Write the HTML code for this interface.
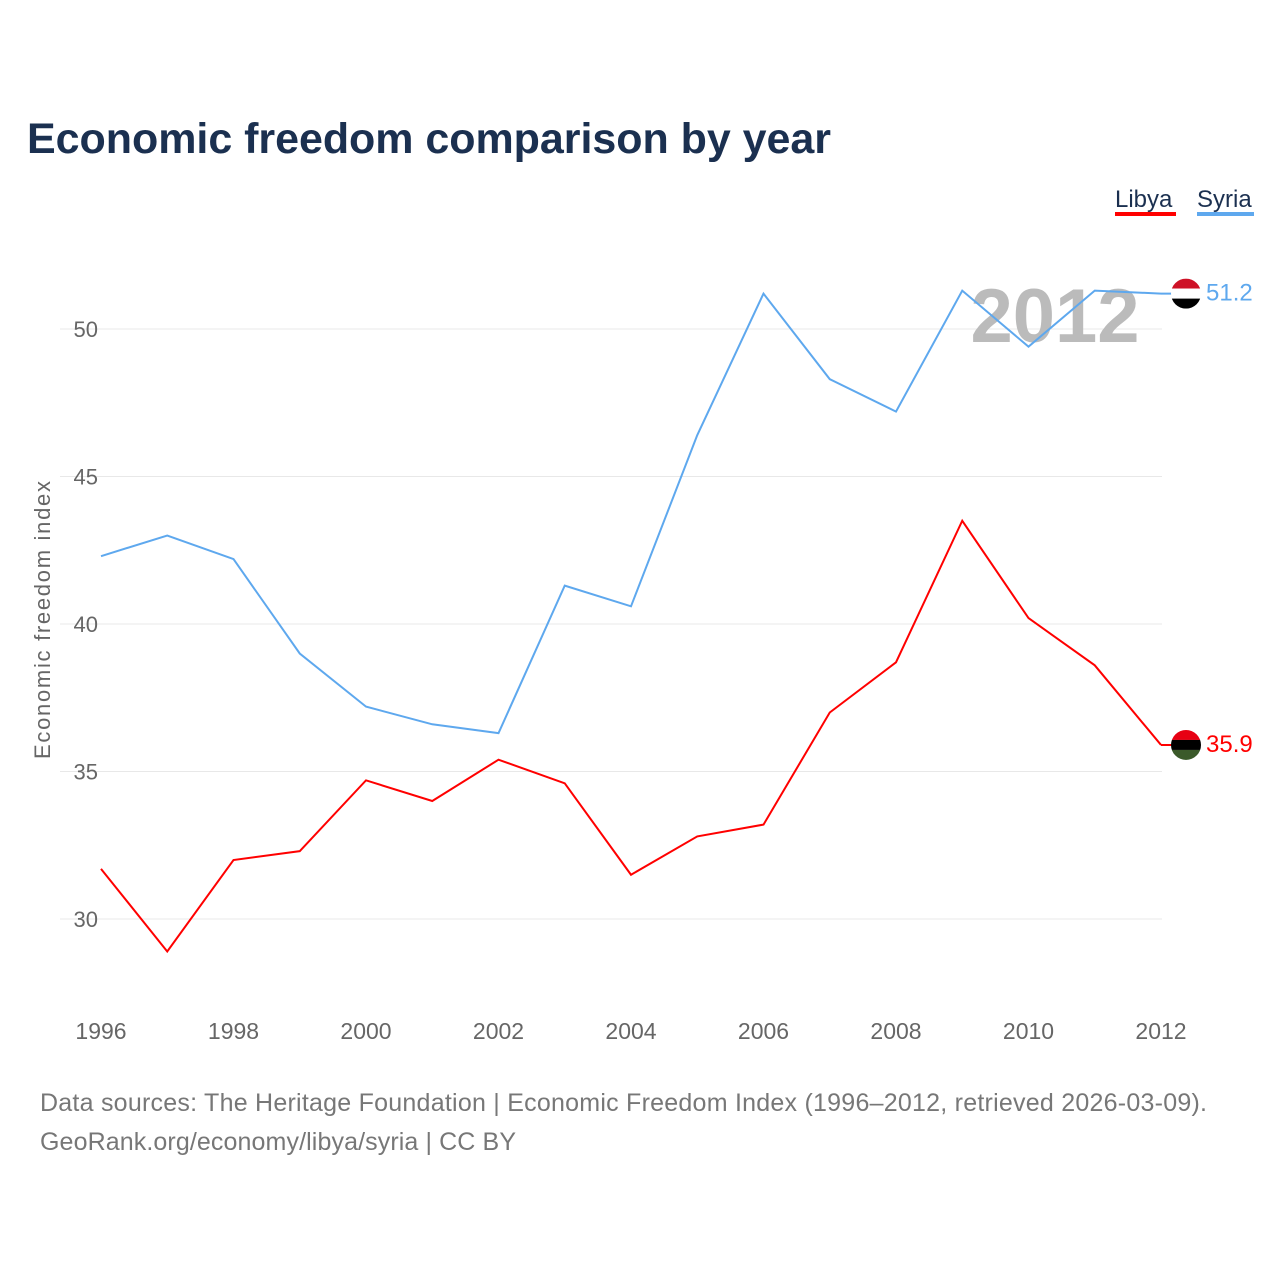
<!DOCTYPE html>
<html><head><meta charset="utf-8"><style>
body{margin:0;background:#fff;font-family:"Liberation Sans",sans-serif;}
</style></head><body>
<svg width="1280" height="1280" xmlns="http://www.w3.org/2000/svg">
<text x="27" y="153" font-size="43" font-weight="bold" fill="#1b3050" textLength="804">Economic freedom comparison by year</text>
<g>
<text x="1115" y="207" font-size="24" fill="#1b3050">Libya</text>
<rect x="1115" y="212" width="61" height="4" fill="#ff0000"/>
<text x="1197" y="207" font-size="24" fill="#1b3050">Syria</text>
<rect x="1197" y="212" width="57" height="4" fill="#5ea8ee"/>
</g>
<g id="grid"></g>
<text x="1055" y="342" font-size="76" font-weight="bold" fill="#bbb" text-anchor="middle">2012</text>
<text transform="translate(50,620) rotate(-90)" font-size="22" fill="#666" text-anchor="middle" textLength="278">Economic freedom index</text>
<g id="marks"></g>
<text x="40" y="1111" font-size="25" fill="#777" textLength="1167">Data sources: The Heritage Foundation | Economic Freedom Index (1996–2012, retrieved 2026-03-09).</text>
<text x="40" y="1150" font-size="25" fill="#777" textLength="476">GeoRank.org/economy/libya/syria | CC BY</text>
</svg>
<script>
const years=[1996,1997,1998,1999,2000,2001,2002,2003,2004,2005,2006,2007,2008,2009,2010,2011,2012];
const syria=[42.3,43.0,42.2,39.0,37.2,36.6,36.3,41.3,40.6,46.4,51.2,48.3,47.2,51.3,49.4,51.3,51.2];
const libya=[31.7,28.9,32.0,32.3,34.7,34.0,35.4,34.6,31.5,32.8,33.2,37.0,38.7,43.5,40.2,38.6,35.9];
const yTicks=[30,35,40,45,50];
const xTicks=[1996,1998,2000,2002,2004,2006,2008,2010,2012];
const NS="http://www.w3.org/2000/svg";
const xS=v=>101+(v-1996)*(1060/16);
const yS=v=>329+(50-v)*29.5;
const grid=document.getElementById('grid'),marks=document.getElementById('marks');
function mk(t,a,p){const e=document.createElementNS(NS,t);for(const k in a)e.setAttribute(k,a[k]);p.appendChild(e);return e;}
yTicks.forEach(v=>{
 const l=mk('line',{x1:60,x2:1162,y1:yS(v),y2:yS(v),stroke:'#e8e8e8','stroke-width':1},grid);
 
 
 const t=mk('text',{x:98,y:yS(v)+8,'font-size':22,fill:'#666','text-anchor':'end'},grid);t.textContent=v;
 
 
});
xTicks.forEach(v=>{
 const t=mk('text',{x:xS(v),y:1039,'font-size':23,fill:'#666','text-anchor':'middle'},grid);t.textContent=v;
 
 
});
function series(d,c,name,flag){
 const p=mk('polyline',{points:d.map((v,i)=>xS(years[i])+','+yS(v)).join(' '),fill:'none',stroke:c,'stroke-width':2},marks);
 
 
 const last=d[d.length-1],x=xS(years[years.length-1])+25,y=yS(last);
 mk('line',{x1:xS(2012),x2:x,y1:y,y2:y,stroke:c,'stroke-width':2},marks);
 const g=mk('g',{},marks);
 
 
 const cp=mk('clipPath',{id:'c'+name},g);mk('circle',{cx:x,cy:y,r:15},cp);
 const cg=mk('g',{'clip-path':'url(#c'+name+')'},g);
 flag.forEach((f,i)=>mk('rect',{x:x-15,y:y-15+i*10,width:30,height:10,fill:f},cg));
 const t=mk('text',{x:x+20,y:y+7,'font-size':24,fill:c},marks);t.textContent=last.toFixed(1);
 
 
}
series(syria,'#5ea8ee','syria',['#ce1126','#fff','#000']);
series(libya,'#ff0000','libya',['#e70013','#000','#3b5a2a']);
</script>
</body></html>
